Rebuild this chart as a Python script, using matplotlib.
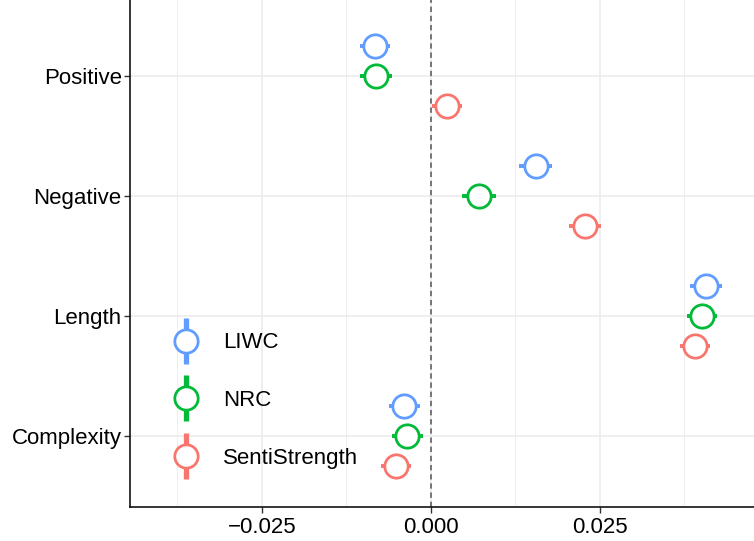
import numpy as np
import matplotlib
matplotlib.use("Agg")
import matplotlib.pyplot as plt
from matplotlib.lines import Line2D
from matplotlib.ticker import MultipleLocator

plt.rcParams['font.family'] = ['Liberation Sans', 'DejaVu Sans']

# predictors (bottom to top) and lexicons
predictors = ['Complexity', 'Length', 'Negative', 'Positive']
lexicons = ['LIWC', 'NRC', 'SentiStrength']
colors = {'LIWC': '#619CFF', 'NRC': '#00BA38', 'SentiStrength': '#F8766D'}

# coefficient estimates, order follows predictors
est = {
    'LIWC':          [-0.0039, 0.0407, 0.0155, -0.0083],
    'NRC':           [-0.0035, 0.0401, 0.0071, -0.0081],
    'SentiStrength': [-0.0052, 0.0391, 0.0228,  0.0024],
}
# half width of the error bars
err = {
    'LIWC':          [0.0023, 0.0023, 0.0024, 0.0022],
    'NRC':           [0.0023, 0.0022, 0.0025, 0.0024],
    'SentiStrength': [0.0022, 0.0022, 0.0024, 0.0022],
}
offsets = {'LIWC': 0.25, 'NRC': 0.0, 'SentiStrength': -0.25}

fig = plt.figure(figsize=(7.54, 5.41), dpi=100)
ax = fig.add_axes([130/754, 34/541, 1 - 130/754, 1 - 34/541])

ypos = np.arange(1, len(predictors) + 1)
for lex in lexicons:
    y = ypos + offsets[lex]
    ax.errorbar(est[lex], y, xerr=err[lex], fmt='none', ecolor=colors[lex],
                elinewidth=2.8, capsize=0, zorder=3)
    ax.plot(est[lex], y, ls='', marker='o', ms=16.8, mfc='white',
            mec=colors[lex], mew=2.0, zorder=4)

ax.axvline(0, color='#555555', ls=(0, (3.5, 2.5)), lw=1.1, zorder=2)

ax.set_xlim(-0.0445, 0.0478)
ax.set_ylim(0.408, 4.633)
ax.xaxis.set_minor_locator(MultipleLocator(0.0125))
ax.set_xticks([-0.025, 0.0, 0.025])
ax.set_xticklabels(['\u22120.025', '0.000', '0.025'])
ax.set_yticks(ypos)
ax.set_yticklabels(predictors)
ax.tick_params(axis='both', which='major', labelsize=16, length=4,
               color='#333333', labelcolor='black', width=1)
ax.tick_params(axis='y', which='major', pad=2)
ax.tick_params(axis='x', which='major', pad=3)
ax.tick_params(axis='x', which='minor', length=0)

ax.grid(True, which='major', color='#EBEBEB', lw=1.1, zorder=0)
ax.grid(True, which='minor', axis='x', color='#EBEBEB', lw=0.6, zorder=0)
ax.set_axisbelow(True)

for s in ['top', 'right']:
    ax.spines[s].set_visible(False)
for s in ['left', 'bottom']:
    ax.spines[s].set_color('black')
    ax.spines[s].set_linewidth(1.1)

handles = []
for lex in lexicons:
    bar = Line2D([], [], ls='', marker='|', ms=33, mew=3.8, color=colors[lex])
    circ = Line2D([], [], ls='', marker='o', ms=16.8, mfc='white',
                  mec=colors[lex], mew=2.0)
    handles.append((bar, circ))
leg = ax.legend(handles, lexicons, loc='lower left', bbox_to_anchor=(0.035, 0.036),
                frameon=False, fontsize=16, labelspacing=1.65, handlelength=1.3,
                handletextpad=1.0)

fig.savefig('out.png', dpi=100)
